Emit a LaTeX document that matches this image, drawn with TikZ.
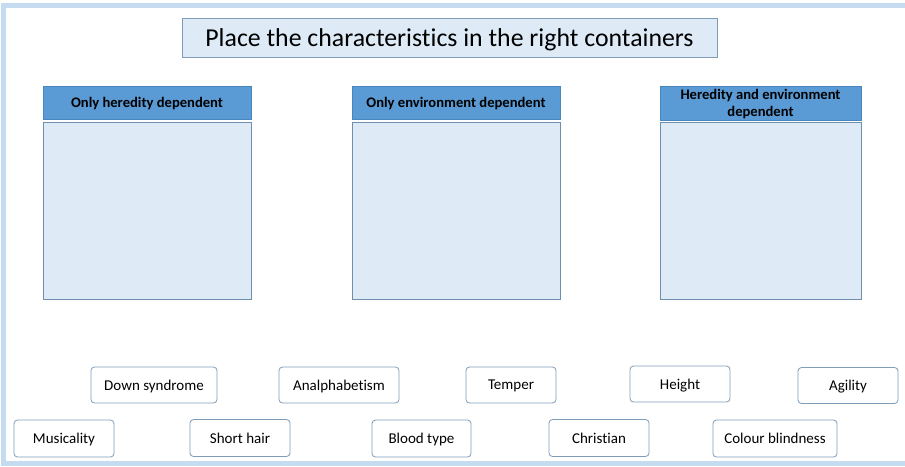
\documentclass[tikz,border=0pt]{standalone}
\usepackage{fontspec}
\setmainfont{Carlito}[Ligatures=NoCommon]
\definecolor{framec}{HTML}{C5DCF0}
\definecolor{lightfill}{HTML}{DEEBF7}
\definecolor{headfill}{HTML}{5B9BD5}
\definecolor{headline}{HTML}{4A86BE}
\definecolor{boxline}{HTML}{6F8FAF}
\definecolor{cardline}{HTML}{7F9DB9}
\begin{document}
\begin{tikzpicture}[x=1pt,y=-1pt,
  titlebox/.style={draw=cardline,fill=lightfill,line width=0.8pt,inner sep=0pt,text depth=0pt,font=\fontsize{25.8}{30}\selectfont},
  headbox/.style={draw=headline,fill=headfill,line width=0.8pt,inner sep=0pt,align=center,text depth=0pt,font=\bfseries\fontsize{14.6}{17.5}\selectfont},
  contbox/.style={draw=boxline,fill=lightfill,line width=0.9pt},
  card/.style={draw=cardline,fill=white,rounded corners=3.5pt,line width=0.8pt,inner sep=0pt,text depth=0pt,font=\fontsize{15}{17}\selectfont}]
\useasboundingbox (0,0) rectangle (905,466);
\fill[white] (0,0) rectangle (905,466);
\draw[framec,line width=5pt] (3,5.5) rectangle (910,463.5);
% title
\node[titlebox,minimum width=535pt,minimum height=39pt] (title) at (449.5,37.5) {Place the characteristics in the right containers};
% headers
\node[headbox,minimum width=208pt,minimum height=33pt] (h1) at (147,102.5) {Only heredity dependent};
\node[headbox,minimum width=208pt,minimum height=33pt] (h2) at (456,102.5) {Only environment dependent};
\node[headbox,minimum width=201pt,minimum height=34pt] (h3) at (760.5,103) {Heredity and environment\\dependent};
% containers
\node[contbox,minimum width=208pt,minimum height=177pt] (c1) at (147,210.5) {};
\node[contbox,minimum width=208pt,minimum height=177pt] (c2) at (456,210.5) {};
\node[contbox,minimum width=201pt,minimum height=177pt] (c3) at (760.5,210.5) {};
% cards row 1
\node[card,minimum width=126pt,minimum height=36pt] (down) at (154,385) {Down syndrome};
\node[card,minimum width=120pt,minimum height=36pt] (anal) at (339,385) {Analphabetism};
\node[card,minimum width=90pt,minimum height=36pt] (temper) at (511,385) {Temper};
\node[card,minimum width=100pt,minimum height=36pt] (height) at (680,384) {Height};
\node[card,minimum width=100pt,minimum height=36pt] (agility) at (848,385.5) {Agility};
% cards row 2
\node[card,minimum width=100pt,minimum height=37pt] (music) at (64,438.5) {Musicality};
\node[card,minimum width=100pt,minimum height=37pt] (short) at (240,438) {Short hair};
\node[card,minimum width=99pt,minimum height=37pt] (blood) at (421.5,438.5) {Blood type};
\node[card,minimum width=100pt,minimum height=37pt] (christ) at (599,438) {Christian};
\node[card,minimum width=124pt,minimum height=37pt] (colour) at (775,438.5) {Colour blindness};
\end{tikzpicture}
\end{document}
